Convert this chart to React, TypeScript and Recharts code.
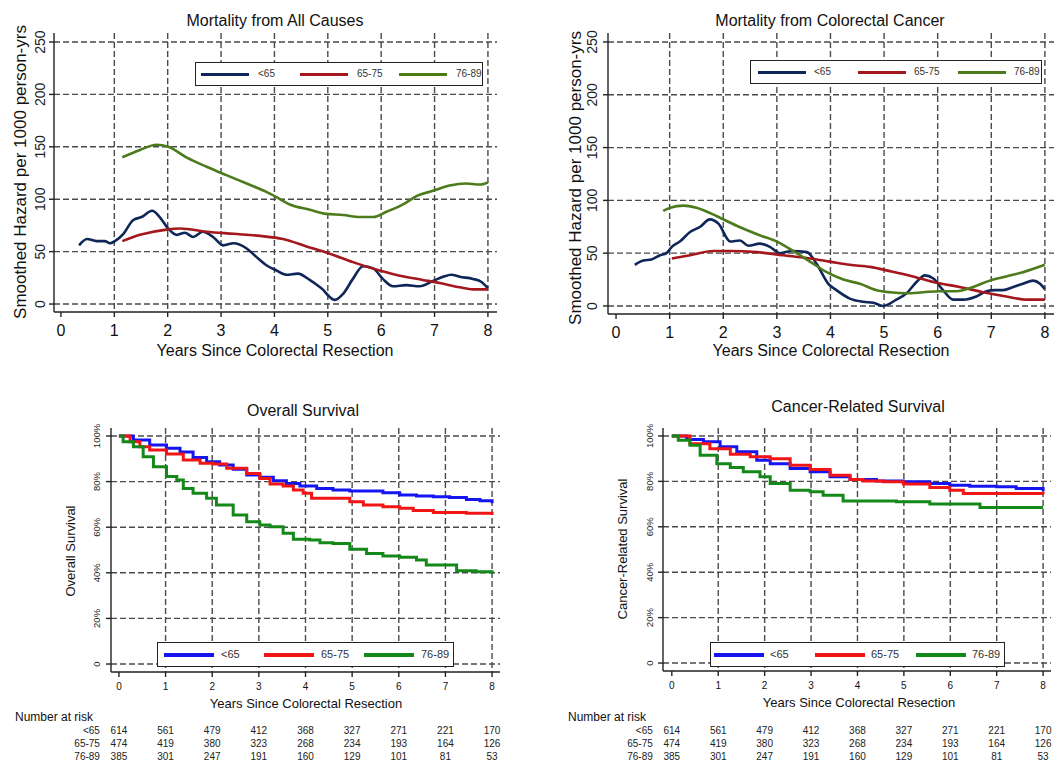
import React from 'react';
import { LineChart, Line, XAxis, YAxis, CartesianGrid, Legend } from 'recharts';

const FONT = '"Liberation Sans", Arial, Helvetica, sans-serif';

// ---------- data ----------
const years = [0, 1, 2, 3, 4, 5, 6, 7, 8];
const hazardTicks = [0, 50, 100, 150, 200, 250];
const survivalTicks = [0, 20, 40, 60, 80, 100];
const groups = ['<65', '65-75', '76-89'];

const riskU65 = [614, 561, 479, 412, 368, 327, 271, 221, 170];
const risk6575 = [474, 419, 380, 323, 268, 234, 193, 164, 126];
const risk7689 = [385, 301, 247, 191, 160, 129, 101, 81, 53];

// Mortality from All Causes (smoothed hazard per 1000 person-yrs)
const allU65 = [[0.34,56],[0.49,62],[0.67,60],[0.82,60],[0.92,58],[1.01,60],[1.17,67],[1.35,80],[1.51,83],[1.71,89],[1.85,83],[2.01,72],[2.17,66],[2.32,68],[2.48,64],[2.66,69],[2.85,64],[3.04,56],[3.23,58],[3.48,53],[3.66,45],[3.85,37],[4.04,32],[4.22,28],[4.44,29],[4.66,23],[4.88,15],[5.13,4],[5.29,10],[5.47,24],[5.66,36],[5.85,34],[6.03,24],[6.22,17],[6.47,18],[6.72,17],[6.97,22],[7.16,26],[7.31,28],[7.47,26],[7.72,24],[7.88,21],[8.0,15]];
const all6575 = [[1.15,60],[1.48,66],[1.98,71],[2.23,72],[2.73,69],[3.23,67],[3.73,65],[4.16,62],[4.6,55],[5.04,48],[5.47,40],[5.97,32],[6.35,27],[6.78,23],[7.1,20],[7.47,16],[7.72,14],[8.0,14]];
const all7689 = [[1.15,140],[1.48,147],[1.79,152],[2.01,150],[2.35,140],[2.73,131],[3.1,123],[3.48,115],[3.85,107],[4.04,102],[4.29,95],[4.66,90],[4.97,86],[5.29,85],[5.6,83],[5.85,83],[6.1,88],[6.41,95],[6.66,103],[6.97,108],[7.28,113],[7.59,115],[7.84,114],[8.0,116]];

// Mortality from Colorectal Cancer
const crcU65 = [[0.35,39],[0.51,43],[0.66,44],[0.82,48],[0.94,50],[1.04,56],[1.19,61],[1.38,70],[1.57,75],[1.75,82],[1.91,78],[2.13,61],[2.31,62],[2.47,57],[2.68,59],[2.87,56],[3.06,50],[3.28,52],[3.56,51],[3.74,40],[3.96,21],[4.11,15],[4.36,7],[4.61,4],[4.8,3],[4.98,0],[5.23,6],[5.42,12],[5.61,23],[5.76,29],[5.92,26],[6.1,15],[6.29,6],[6.48,6],[6.72,9],[6.91,14],[7.07,15],[7.22,15],[7.41,18],[7.59,21],[7.78,24],[7.91,21],[8.0,16]];
const crc6575 = [[1.04,45],[1.38,48],[1.81,52],[2.13,52],[2.62,51],[3.12,48],[3.62,45],[3.99,42],[4.36,39],[4.74,37],[5.11,33],[5.54,28],[5.98,22],[6.41,18],[6.85,13],[7.28,9],[7.66,6],[8.0,6]];
const crc7689 = [[0.88,90],[1.01,93],[1.26,95],[1.5,93],[1.88,85],[2.25,76],[2.68,67],[3.0,61],[3.31,52],[3.62,42],[3.93,32],[4.24,25],[4.55,21],[4.86,15],[5.11,13],[5.42,12],[5.73,13],[6.04,14],[6.35,14],[6.66,18],[6.97,24],[7.28,28],[7.59,32],[8.0,39]];

// Overall Survival (%)
const osU65 = [[0,100],[0.31,98.2],[0.66,96],[1.02,94.6],[1.31,93],[1.59,90.6],[1.88,88.7],[2.16,87.3],[2.45,85.4],[2.74,82.9],[3.02,81.9],[3.31,80.4],[3.59,79.2],[3.88,78.1],[4.24,77],[4.59,76.3],[4.95,75.9],[5.31,75.9],[5.66,75.1],[6.02,74.1],[6.38,73.7],[6.74,73.4],[7.09,73],[7.45,72.2],[7.74,71.6],[8.0,70.5]];
const os6575 = [[0,100],[0.24,97.5],[0.45,95.3],[0.66,93.9],[1.02,92.1],[1.38,89.5],[1.74,88],[2.02,87.7],[2.31,85.8],[2.74,83.6],[3.02,81.4],[3.24,78.9],[3.52,78.1],[3.74,76.3],[3.95,74.9],[4.13,72.7],[4.59,72.7],[4.95,71.2],[5.24,69.7],[5.66,69],[6.02,68.3],[6.31,67.3],[6.74,66.4],[7.45,66.1],[8.0,65.4]];
const os7689 = [[0,100],[0.09,97.5],[0.31,95.3],[0.52,90.9],[0.74,86.5],[1.02,82.2],[1.24,80.7],[1.38,77],[1.59,74.9],[1.88,72.7],[2.09,69.7],[2.45,65.4],[2.74,62.4],[3.02,61],[3.24,60.2],[3.52,57.3],[3.74,54.7],[4.09,54.4],[4.31,53.2],[4.59,52.9],[4.95,50.3],[5.31,48.5],[5.66,47.4],[6.02,46.8],[6.38,45.6],[6.59,43.4],[7.02,43.4],[7.24,40.9],[7.66,40.5],[8.0,39.5]];

// Cancer-Related Survival (%)
const crsU65 = [[0,100],[0.32,98.4],[0.68,97.4],[1.04,95.2],[1.4,93],[1.83,89.3],[2.12,87.8],[2.55,85.7],[2.98,84.2],[3.41,82],[3.84,80.8],[4.41,80.2],[4.99,79.8],[5.56,79.1],[5.99,78.3],[6.42,77.9],[7.0,77.6],[7.42,76.9],[8.0,75.7]];
const crs6575 = [[0,100],[0.39,96.6],[0.82,94.4],[1.26,91.9],[1.69,90.8],[2.12,90],[2.55,87.1],[2.98,85.2],[3.41,82.7],[3.84,80.8],[4.12,80.2],[4.56,79.8],[4.99,78.8],[5.56,77.3],[5.99,76.1],[6.28,74.7],[7.0,74.7],[8.0,74.4]];
const crs7689 = [[0,100],[0.14,98.1],[0.39,95.9],[0.61,91.5],[0.97,87.8],[1.26,86.1],[1.54,84.2],[1.9,82],[2.12,79.1],[2.55,76.1],[2.98,75.4],[3.26,73.9],[3.69,71.4],[4.12,71.4],[4.84,71],[5.56,70],[6.49,70],[6.64,68.5],[8.0,68.5]];

// ---------- helpers ----------
type Pt = { x: number; y: number };
const pts = (a: number[][]): Pt[] => a.map(([x, y]) => ({ x, y }));
const riskRows = [riskU65, risk6575, risk7689];

const darkColors = ['#0f2658', '#a3171d', '#4c7b1c'];
const brightColors = ['#1515f2', '#f21515', '#14891a'];

interface LegendCfg { left: number; top: number; width: number; height: number; pad: number; step: number; lineLen: number; lineW: number; gap: number; font: number }
interface PanelCfg {
  left: number; top: number; width: number; height: number;
  margin: { top: number; right: number; left: number; bottom: number };
  yWidth: number; xHeight: number;
  xDomain: [number, number]; yDomain: [number, number];
  yTicks: number[]; yFmt: (v: number) => string;
  yTickFont: number; yTickOff: number;
  xTickFont: number; xTickOff: number;
  series: { name: string; color: string; data: Pt[] }[];
  curve: 'monotone' | 'stepAfter';
  strokeWidth: number;
  legend: LegendCfg;
  risk: boolean;
}

function Txt({ x, y, s, r, start, children, color }: { x: number; y: number; s: number; r?: number; start?: boolean; children: React.ReactNode; color?: string }) {
  const tx = start ? '0' : '-50%';
  return (
    <div style={{ position: 'absolute', left: x, top: y, fontSize: s, lineHeight: 1, whiteSpace: 'nowrap', fontFamily: FONT, color: color || '#111', transform: `translate(${tx},-50%)${r ? ` rotate(${r}deg)` : ''}` }}>{children}</div>
  );
}

function Panel({ c }: { c: PanelCfg }) {
  const lg = c.legend;
  const renderLegend = (props: any) => {
    const payload = ((props && props.payload) || []).slice().sort((a: any, b: any) => groups.indexOf(a.value) - groups.indexOf(b.value));
    return (
      <div style={{ width: lg.width, height: lg.height, boxSizing: 'border-box', border: '1.3px solid #222', background: '#fff', position: 'relative', fontFamily: FONT }}>
        {payload.map((e: any, i: number) => (
          <div key={i} style={{ position: 'absolute', left: lg.pad + i * lg.step, top: 0, height: lg.height - 2, display: 'flex', alignItems: 'center', whiteSpace: 'nowrap' }}>
            <div style={{ width: lg.lineLen, height: lg.lineW, background: e.color, flex: 'none' }} />
            <span style={{ marginLeft: lg.gap, fontSize: lg.font, color: '#333', lineHeight: 1, whiteSpace: 'nowrap' }}>{e.value}</span>
          </div>
        ))}
      </div>
    );
  };
  const xTick = (p: any) => (
    <text x={p.x} y={p.y + c.xTickOff} textAnchor="middle" dominantBaseline="central" fontSize={c.xTickFont} fontFamily={FONT} fill="#111">{p.payload.value}</text>
  );
  const yTick = (p: any) => {
    const tx = p.x - c.yTickOff;
    return (
      <text x={tx} y={p.y} transform={`rotate(-90 ${tx} ${p.y})`} textAnchor="middle" dominantBaseline="central" fontSize={c.yTickFont} fontFamily={FONT} fill="#222">{c.yFmt(p.payload.value)}</text>
    );
  };
  const riskTick = (row: number) => (p: any) => {
    const idx = years.indexOf(p.payload.value);
    return (
      <g>
        {idx === 0 && (
          <text x={p.x - 19} y={p.y + 13} textAnchor="end" dominantBaseline="central" fontSize={10} fontFamily={FONT} fill="#222">{groups[row]}</text>
        )}
        <text x={p.x} y={p.y + 13} textAnchor="middle" dominantBaseline="central" fontSize={10} fontFamily={FONT} fill="#222">{riskRows[row][idx]}</text>
      </g>
    );
  };
  return (
    <div style={{ position: 'absolute', left: c.left, top: c.top }}>
      <LineChart width={c.width} height={c.height} margin={c.margin}>
        <CartesianGrid xAxisId="main" yAxisId="main" stroke="#4a4a4a" strokeWidth={1.4} strokeDasharray="6 3" horizontalValues={c.yTicks} verticalValues={years.slice(1)} />
        <XAxis xAxisId="main" type="number" dataKey="x" domain={c.xDomain} ticks={years} interval={0} allowDataOverflow height={c.xHeight} stroke="#222" strokeWidth={1.4} tickSize={5} tickMargin={0} tick={xTick} />
        {c.risk && riskRows.map((_, i) => (
          <XAxis key={'r' + i} xAxisId={'r' + i} type="number" dataKey="x" domain={c.xDomain} ticks={years} interval={0} allowDataOverflow height={13} axisLine={false} tickLine={false} tickSize={0} tickMargin={0} tick={riskTick(i)} />
        ))}
        <YAxis yAxisId="main" type="number" domain={c.yDomain} ticks={c.yTicks} interval={0} allowDataOverflow width={c.yWidth} stroke="#222" strokeWidth={1.4} tickSize={5} tickMargin={0} tick={yTick} />
        {c.series.map((s) => (
          <Line key={s.name} xAxisId="main" yAxisId="main" data={s.data} dataKey="y" name={s.name} stroke={s.color} strokeWidth={c.strokeWidth} type={c.curve} dot={false} activeDot={false} isAnimationActive={false} />
        ))}
        <Legend layout="horizontal" verticalAlign="middle" align="center" content={renderLegend} wrapperStyle={{ left: lg.left - c.left, top: lg.top - c.top, width: lg.width, height: lg.height }} />
      </LineChart>
    </div>
  );
}

const hz = (v: number) => String(v);
const pc = (v: number) => (v === 0 ? '0' : `${v}%`);

const panels: PanelCfg[] = [
  {
    left: 0, top: 0, width: 530, height: 370,
    margin: { top: 33, right: 33, left: 0, bottom: 0 }, yWidth: 54, xHeight: 58,
    xDomain: [-0.13, 8.17], yDomain: [-7.6, 258.6], yTicks: hazardTicks, yFmt: hz,
    yTickFont: 14, yTickOff: 9, xTickFont: 16, xTickOff: 13,
    series: [pts(allU65), pts(all6575), pts(all7689)].map((d, i) => ({ name: groups[i], color: darkColors[i], data: d })),
    curve: 'monotone', strokeWidth: 2.6,
    legend: { left: 195, top: 62, width: 288, height: 24, pad: 5, step: 99, lineLen: 48, lineW: 3, gap: 9, font: 10 },
    risk: false,
  },
  {
    left: 530, top: 0, width: 531, height: 370,
    margin: { top: 33, right: 7, left: 0, bottom: 0 }, yWidth: 78, xHeight: 56,
    xDomain: [-0.15, 8.17], yDomain: [-7.6, 258.5], yTicks: hazardTicks, yFmt: hz,
    yTickFont: 14, yTickOff: 11, xTickFont: 16, xTickOff: 13,
    series: [pts(crcU65), pts(crc6575), pts(crc7689)].map((d, i) => ({ name: groups[i], color: darkColors[i], data: d })),
    curve: 'monotone', strokeWidth: 2.6,
    legend: { left: 750, top: 60, width: 292, height: 24, pad: 7, step: 100, lineLen: 48, lineW: 3, gap: 8, font: 10 },
    risk: false,
  },
  {
    left: 0, top: 380, width: 530, height: 382,
    margin: { top: 48, right: 30, left: 0, bottom: 6 }, yWidth: 111, xHeight: 45,
    xDomain: [-0.17, 8.17], yDomain: [-3.5, 103.5], yTicks: survivalTicks, yFmt: pc,
    yTickFont: 9.5, yTickOff: 9, xTickFont: 10, xTickOff: 9,
    series: [pts(osU65), pts(os6575), pts(os7689)].map((d, i) => ({ name: groups[i], color: brightColors[i], data: d })),
    curve: 'stepAfter', strokeWidth: 3,
    legend: { left: 157, top: 642, width: 297, height: 25, pad: 6, step: 100, lineLen: 50, lineW: 4, gap: 7, font: 11 },
    risk: true,
  },
  {
    left: 530, top: 380, width: 531, height: 382,
    margin: { top: 48, right: 10, left: 0, bottom: 6 }, yWidth: 133, xHeight: 46,
    xDomain: [-0.19, 8.17], yDomain: [-3.5, 103.5], yTicks: survivalTicks, yFmt: pc,
    yTickFont: 9.5, yTickOff: 8, xTickFont: 10, xTickOff: 9,
    series: [pts(crsU65), pts(crs6575), pts(crs7689)].map((d, i) => ({ name: groups[i], color: brightColors[i], data: d })),
    curve: 'stepAfter', strokeWidth: 3,
    legend: { left: 710, top: 642, width: 295, height: 25, pad: 3, step: 101, lineLen: 50, lineW: 4, gap: 6, font: 11 },
    risk: true,
  },
];

export default function App() {
  return (
    <div style={{ position: 'absolute', left: 0, top: 0, width: 1061, height: 762, background: '#fff', overflow: 'hidden', fontFamily: FONT }}>
      {panels.map((p, i) => <Panel key={i} c={p} />)}
      {/* titles */}
      <Txt x={275} y={21} s={16}>Mortality from All Causes</Txt>
      <Txt x={830} y={21} s={16}>Mortality from Colorectal Cancer</Txt>
      <Txt x={303} y={411} s={16}>Overall Survival</Txt>
      <Txt x={858} y={407} s={16}>Cancer-Related Survival</Txt>
      {/* axis titles */}
      <Txt x={275} y={351} s={16}>Years Since Colorectal Resection</Txt>
      <Txt x={831} y={351} s={16}>Years Since Colorectal Resection</Txt>
      <Txt x={20} y={172} s={17} r={-90}>Smoothed Hazard per 1000 person-yrs</Txt>
      <Txt x={575} y={178} s={17} r={-90}>Smoothed Hazard per 1000 person-yrs</Txt>
      <Txt x={306} y={703} s={13}>Years Since Colorectal Resection</Txt>
      <Txt x={859} y={702} s={13}>Years Since Colorectal Resection</Txt>
      <Txt x={70} y={551} s={13} r={-90}>Overall Survival</Txt>
      <Txt x={622} y={549} s={13} r={-90}>Cancer-Related Survival</Txt>
      <Txt x={15} y={717} s={12} start>Number at risk</Txt>
      <Txt x={568} y={717} s={12} start>Number at risk</Txt>
    </div>
  );
}
